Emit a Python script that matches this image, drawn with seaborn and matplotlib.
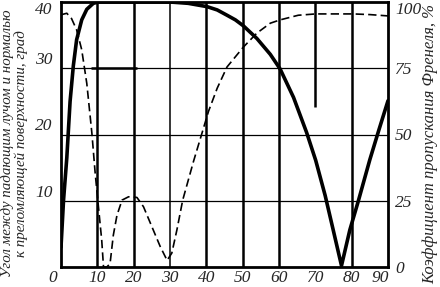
import matplotlib
matplotlib.use('Agg')
import matplotlib.pyplot as plt
import matplotlib.transforms as mtransforms
import pandas as pd
import seaborn as sns

# угол (град) и две кривые, в единицах левой оси (0..40)
solid_x = [0, 0.7, 1.6, 2.5, 3.4, 4.3, 5.7, 7.1, 8.9, 10.3, 20, 30, 35, 40.2, 43,
           45.7, 48, 50.2, 53.9, 57.6, 60.3, 64, 67.6, 70.1, 72.7, 75, 77.2, 79.5,
           81.8, 85, 87.5, 90]
solid_y = [3, 10.1, 16.5, 25, 30.4, 34.3, 37.3, 38.9, 39.8, 40, 40, 40, 39.8, 39.3,
           38.8, 38, 37.3, 36.4, 34.5, 32.1, 29.9, 25.6, 20.3, 16.1, 10.8, 5.4, 0.2,
           5.6, 9.9, 16.2, 20.7, 25.1]

dash_x = [0, 0.2, 1.6, 2.9, 4.3, 5.7, 7.1, 8.5, 9.4, 10.3, 11.2, 11.7, 12.6, 13.5,
          14.4, 15.4, 16.8, 18.6, 20.9, 22.7, 25, 27.3, 29.2, 30.5, 31.9, 33.5,
          36.5, 38.8, 40.6, 43, 45.7, 50.2, 53.9, 57.6, 60.3, 65.3, 70.1, 75,
          80.4, 85, 90]
dash_y = [38, 38.1, 38.3, 37.5, 35.8, 32.8, 27.7, 20.2, 14.2, 9.1, 4.1, 0, 0, 0.5,
          4.8, 7.8, 10.1, 10.6, 10.5, 9.1, 6.1, 3.1, 1, 2.1, 5.6, 10.1,
          16, 20.2, 23.5, 27, 30.2, 33.2, 35.3, 36.8, 37.3, 38, 38.2, 38.2,
          38.2, 38.1, 37.9]

x_ticks = [0, 10, 20, 30, 40, 50, 60, 70, 80, 90]
left_ticks = [10, 20, 30, 40]
right_ticks = [0, 25, 50, 75, 100]

df_solid = pd.DataFrame({'x': solid_x, 'y': solid_y})
df_dash = pd.DataFrame({'x': dash_x, 'y': dash_y})

sns.set_style('white')
plt.rcParams['font.family'] = ['Liberation Serif', 'DejaVu Serif']
plt.rcParams['font.style'] = 'italic'

fig, ax = plt.subplots(figsize=(4.4, 2.87), dpi=100)
fig.subplots_adjust(left=61/440, right=388/440, top=1 - 2/287, bottom=1 - 267/287)

# сетка как на оригинале: толстые вертикали, тонкая 30, обрывок на 70
ax.vlines([10, 20, 40, 50, 60, 80], 0, 40, color='black', lw=1.8, zorder=1)
ax.vlines(30, 0, 40, color='black', lw=1.1, zorder=1)
ax.vlines(70, 24.2, 40, color='black', lw=1.8, zorder=1)
ax.hlines([10, 20, 30], 0, 90, color='black', lw=0.9, zorder=1)
ax.hlines(30, 8.2, 21, color='black', lw=1.8, zorder=1)

sns.lineplot(data=df_dash, x='x', y='y', ax=ax, color='black', lw=1.2,
             linestyle=(0, (5, 2.5)), sort=False, zorder=3)
sns.lineplot(data=df_solid, x='x', y='y', ax=ax, color='black', lw=2.6,
             sort=False, zorder=4, solid_joinstyle='round')

ax.set_xlim(0, 90)
ax.set_ylim(0, 40)
ax.set_xticks(x_ticks)
ax.set_yticks(left_ticks)
ax.tick_params(axis='x', length=0, labelsize=12.5, pad=2)
ax.tick_params(axis='y', length=0, labelsize=12.5, pad=6)
ax.set_xlabel('')
ax.set_ylabel('')
ax.grid(False)
for s in ax.spines.values():
    s.set_color('black')
    s.set_linewidth(2)

xl = ax.get_xticklabels()
xl[0].set_transform(mtransforms.offset_copy(xl[0].get_transform(), fig, x=-8, units='dots'))
xl[-1].set_transform(mtransforms.offset_copy(xl[-1].get_transform(), fig, x=-8, units='dots'))
for lab in ax.get_yticklabels()[:-1]:
    lab.set_va('bottom')
ax.get_yticklabels()[-1].set_va('top')

ax2 = ax.twinx()
ax2.set_ylim(0, 100)
ax2.set_yticks(right_ticks)
ax2.tick_params(length=0, labelsize=12.5, pad=5)
ax2.get_yticklabels()[-1].set_va('top')
for s in ax2.spines.values():
    s.set_visible(False)

fig.text(0.032, 0.5, 'Угол между падающим лучом и нормалью\nк преломляющей поверхности, град',
         rotation=90, ha='center', va='center', fontsize=10.8, linespacing=1.05)
fig.text(0.978, 0.5, 'Коэффициент пропускания Френеля, %', rotation=90,
         ha='center', va='center', fontsize=12)

fig.savefig('out.png', dpi=100)
